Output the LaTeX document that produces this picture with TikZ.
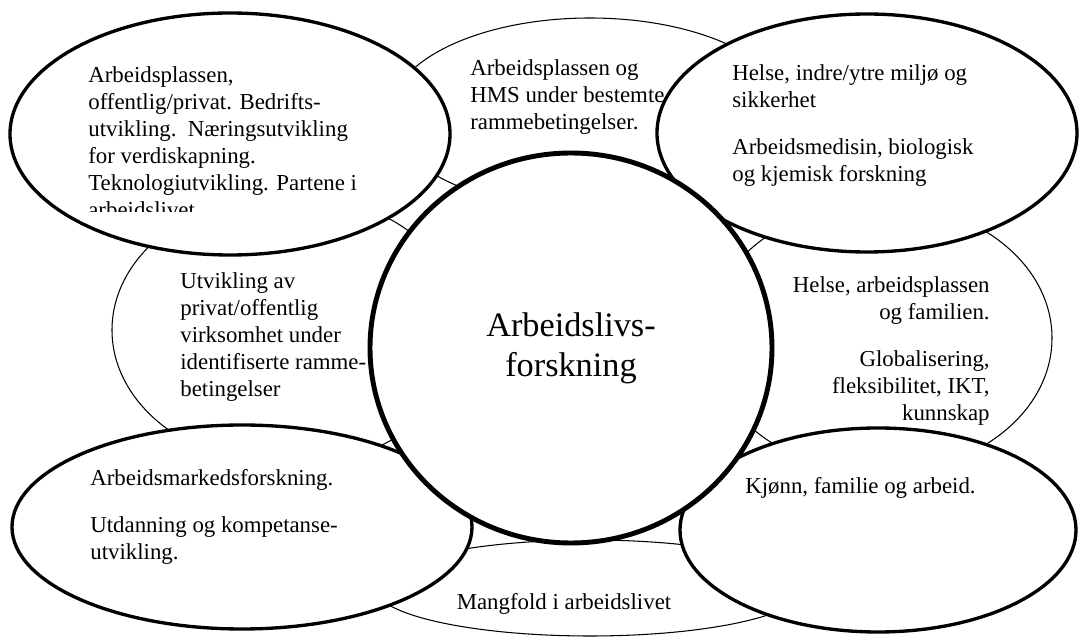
\documentclass[tikz,border=0pt]{standalone}
\usepackage{fontspec}
\setmainfont{Liberation Serif}
\usepackage{tikz}
\usetikzlibrary{shapes.geometric}

\begin{document}
\begin{tikzpicture}[thinEllipse/.style = {shape=ellipse, draw, fill=white, line width=0.6pt, inner sep=0pt},
thickEllipse/.style = {shape=ellipse, draw, fill=white, line width=1.9pt, inner sep=0pt},
bodyText/.style = {inner sep=0pt, font=\fontsize{13}{15.4}\selectfont}]

\useasboundingbox (0,0) rectangle (21.58,12.78);

% thin ellipses
\node (hmsEllipse) [thinEllipse, minimum width=8cm, minimum height=3.84cm] at (11.80,10.50) {};
\node (hmsText) [bodyText, anchor=base west, align=left] at (9.40,10.18) {Arbeidsplassen og\\HMS under bestemte\\rammebetingelser.};
\node (virksomhetEllipse) [thinEllipse, minimum width=7.04cm, minimum height=5.44cm] at (5.76,6.18) {};
\node (virksomhetText) [bodyText, anchor=base west, align=left] at (3.60,4.84) {Utvikling av\\privat/offentlig\\virksomhet under\\identifiserte ramme-\\betingelser};
\node (familienEllipse) [thinEllipse, minimum width=6.88cm, minimum height=5.40cm] at (17.60,6.02) {};
\node (familienText) [bodyText, anchor=base east, align=right] at (19.80,4.36) {Helse, arbeidsplassen\\og familien.\\[0.4cm]Globalisering,\\fleksibilitet, IKT,\\kunnskap};
\node (mangfoldEllipse) [thinEllipse, minimum width=8.60cm, minimum height=1.92cm] at (11.80,1.02) {};
\node (mangfoldText) [bodyText, anchor=base] at (11.28,0.60) {Mangfold i arbeidslivet};

% thick ellipses
\node (bedriftEllipse) [thickEllipse, minimum width=8.80cm, minimum height=4.84cm] at (4.60,10.10) {};
\begin{scope}
\clip (1.5,8.54) rectangle (9.0,11.8);
\node (bedriftText) [bodyText, anchor=base west, align=left] at (1.76,8.42) {Arbeidsplassen,\\offentlig/privat. Bedrifts-\\utvikling.\ \ Næringsutvikling\\for verdiskapning.\\Teknologiutvikling. Partene i\\arbeidslivet};
\end{scope}
\node (miljoEllipse) [thickEllipse, minimum width=8.40cm, minimum height=4.76cm] at (17.34,10.12) {};
\node (miljoText) [bodyText, anchor=base west, align=left] at (14.64,9.14) {Helse, indre/ytre miljø og\\sikkerhet\\[0.4cm]Arbeidsmedisin, biologisk\\og kjemisk forskning};
\node (markedEllipse) [thickEllipse, minimum width=9.20cm, minimum height=4.08cm] at (4.84,2.24) {};
\node (markedText) [bodyText, anchor=base west, align=left] at (1.80,1.58) {Arbeidsmarkedsforskning.\\[0.4cm]Utdanning og kompetanse-\\utvikling.};
\node (kjonnEllipse) [thickEllipse, minimum width=7.92cm, minimum height=4.08cm] at (17.56,2.18) {};
\node (kjonnText) [bodyText, anchor=base west] at (14.90,2.90) {Kjønn, familie og arbeid.};

% centre
\node (arbeidsliv) [shape=ellipse, draw, fill=white, line width=2.8pt, inner sep=0pt, minimum width=8.04cm, minimum height=7.80cm, align=center, font=\fontsize{19.5}{22.8}\selectfont] at (11.42,5.82) {Arbeidslivs-\\forskning};
\end{tikzpicture}
\end{document}
